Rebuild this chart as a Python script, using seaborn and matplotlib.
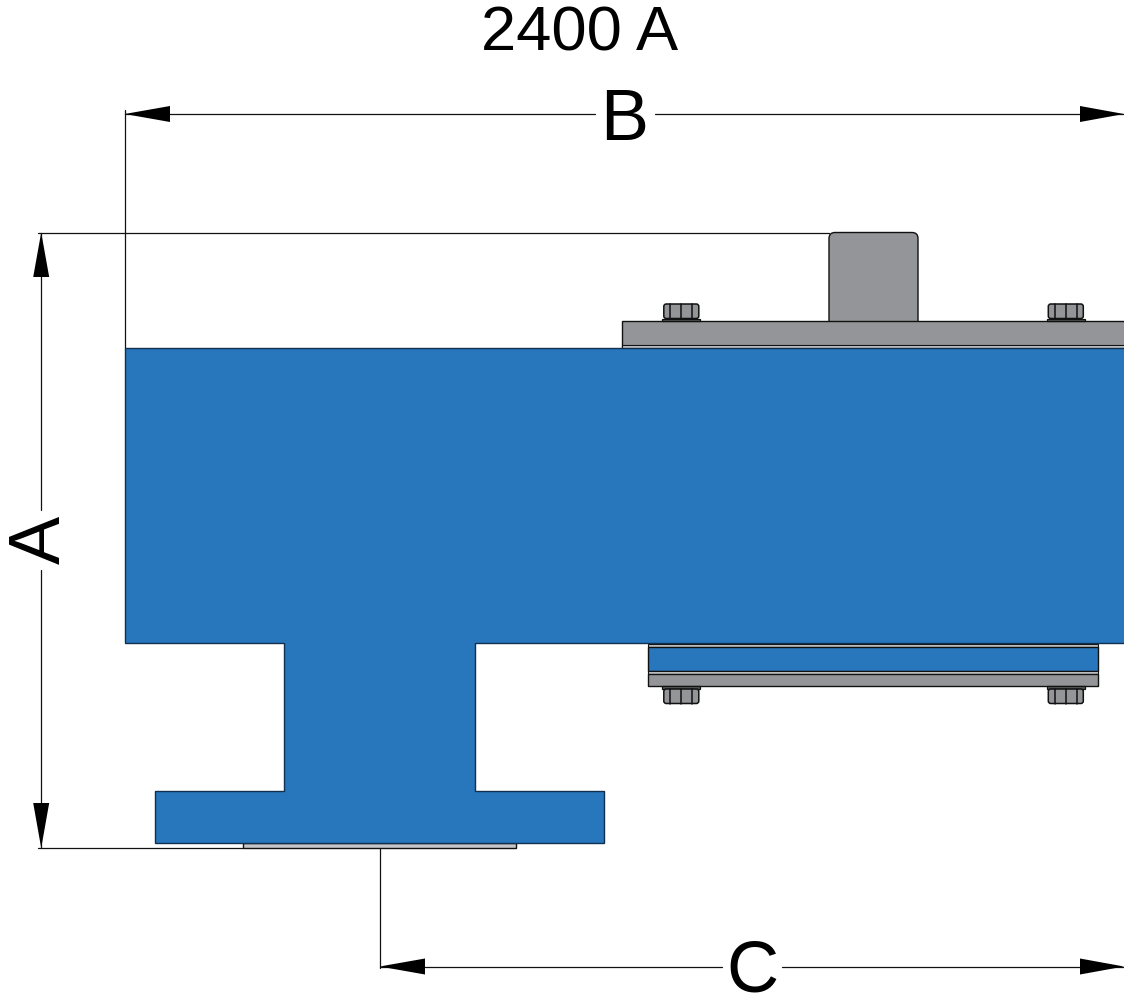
import matplotlib.pyplot as plt
import seaborn as sns
from matplotlib.patches import FancyBboxPatch

BLUE = "#2876bc"
GRAY = "#939598"
LIGHT = "#c4c6c8"
LINE = "#111111"

# outline of the blue section (pixels of the drawing)
body_x = [124.7, 1126, 1126, 475, 475, 604, 604, 154.7, 154.7, 284, 284, 124.7]
body_y = [348, 348, 643, 643, 791, 791, 843, 843, 791, 791, 643, 643]

# rectangles: x0, x1, y0, y1
top_plate = [622, 1126, 321, 348]
top_strip = [622, 1126, 345, 348]
tab = [829, 918, 232.5, 321]
lower_gap = [648, 1098, 643.5, 646.5]
lower_blue = [648, 1098, 646.5, 670.5]
lower_strip = [648, 1098, 670.5, 674]
lower_plate = [648, 1098, 674, 686]
shim = [243, 516, 843, 848]

# bolts
bolt_centers = [681.3, 1065.8]
bolt_ribs = [-11, 0, 11]

# dimension lines: (x0, y0, x1, y1)
dim_lines = [
    (124.7, 110, 124.7, 348),
    (124.7, 114, 595, 114),
    (655, 114, 1124, 114),
    (38, 232.5, 829, 232.5),
    (41.2, 232.5, 41.2, 510),
    (41.2, 570, 41.2, 848),
    (38, 848, 243, 848),
    (379.7, 848, 379.7, 968),
    (379.7, 966.5, 722, 966.5),
    (782, 966.5, 1124, 966.5),
]

# arrow heads: tip x, tip y, base x, base y
arrows = [
    (124.7, 114, 170, 114),
    (1124, 114, 1080, 114),
    (41.2, 232.5, 41.2, 277),
    (41.2, 848, 41.2, 803),
    (379.7, 966.5, 425, 966.5),
    (1124, 966.5, 1080, 966.5),
]


def box(ax, r, color, lw=1.0, z=2):
    ax.fill([r[0], r[1], r[1], r[0]], [r[2], r[2], r[3], r[3]],
            facecolor=color, edgecolor=LINE, linewidth=lw, zorder=z)


def bolt(ax, cx, y0, y1, wy0, wy1):
    box(ax, [cx - 19, cx + 19, wy0, wy1], "#55575a", 0.9, 3)
    ax.add_patch(FancyBboxPatch((cx - 17.5, y0), 35, y1 - y0,
                                boxstyle="round,pad=0,rounding_size=2.5",
                                facecolor=GRAY, edgecolor=LINE, linewidth=1.1, zorder=3))
    for d in bolt_ribs:
        ax.plot([cx + d, cx + d], [y0, y1], color=LINE, lw=1.1, zorder=4)


sns.set_theme(style="white")
plt.rcParams["font.family"] = ["Liberation Sans", "DejaVu Sans"]

fig = plt.figure(figsize=(11.24, 10.01), dpi=100)
ax = fig.add_axes([0, 0, 1, 1])
ax.set_xlim(0, 1124)
ax.set_ylim(1001, 0)
ax.axis("off")

for x0, y0, x1, y1 in dim_lines:
    sns.lineplot(x=[x0, x1], y=[y0, y1], ax=ax, color=LINE, linewidth=0.9,
                 sort=False, estimator=None, zorder=1)

for tx, ty, bx, by in arrows:
    if ty == by:
        ax.fill([tx, bx, bx], [ty, ty - 8, ty + 8], color="black", lw=0, zorder=5)
    else:
        ax.fill([tx, tx - 8, tx + 8], [ty, by, by], color="black", lw=0, zorder=5)

box(ax, shim, LIGHT)
box(ax, top_plate, GRAY)
box(ax, top_strip, LIGHT, 0.8)
ax.add_patch(FancyBboxPatch((tab[0], tab[2]), tab[1] - tab[0], tab[3] - tab[2] + 6,
                            boxstyle="round,pad=0,rounding_size=6",
                            facecolor=GRAY, edgecolor=LINE, linewidth=1.0, zorder=1.5))
box(ax, lower_gap, LIGHT, 0.8)
box(ax, lower_blue, BLUE)
box(ax, lower_strip, LIGHT, 0.8)
box(ax, lower_plate, GRAY)

for cx in bolt_centers:
    bolt(ax, cx, 304, 318.5, 318.5, 321)
    bolt(ax, cx, 689, 703.5, 686, 689)

ax.fill(body_x, body_y, facecolor=BLUE, edgecolor="#10304f", linewidth=1.0, zorder=3)

ax.text(580, 34, "2400 A", fontsize=45.5, ha="center", va="center", color="black")
ax.text(624, 122, "B", fontsize=52, ha="center", va="center", color="black")
ax.text(752, 973, "C", fontsize=52, ha="center", va="center", color="black")
ax.text(41.5, 540, "A", fontsize=52, ha="center", va="center", rotation=90, color="black")

fig.savefig("out.png", dpi=100)
